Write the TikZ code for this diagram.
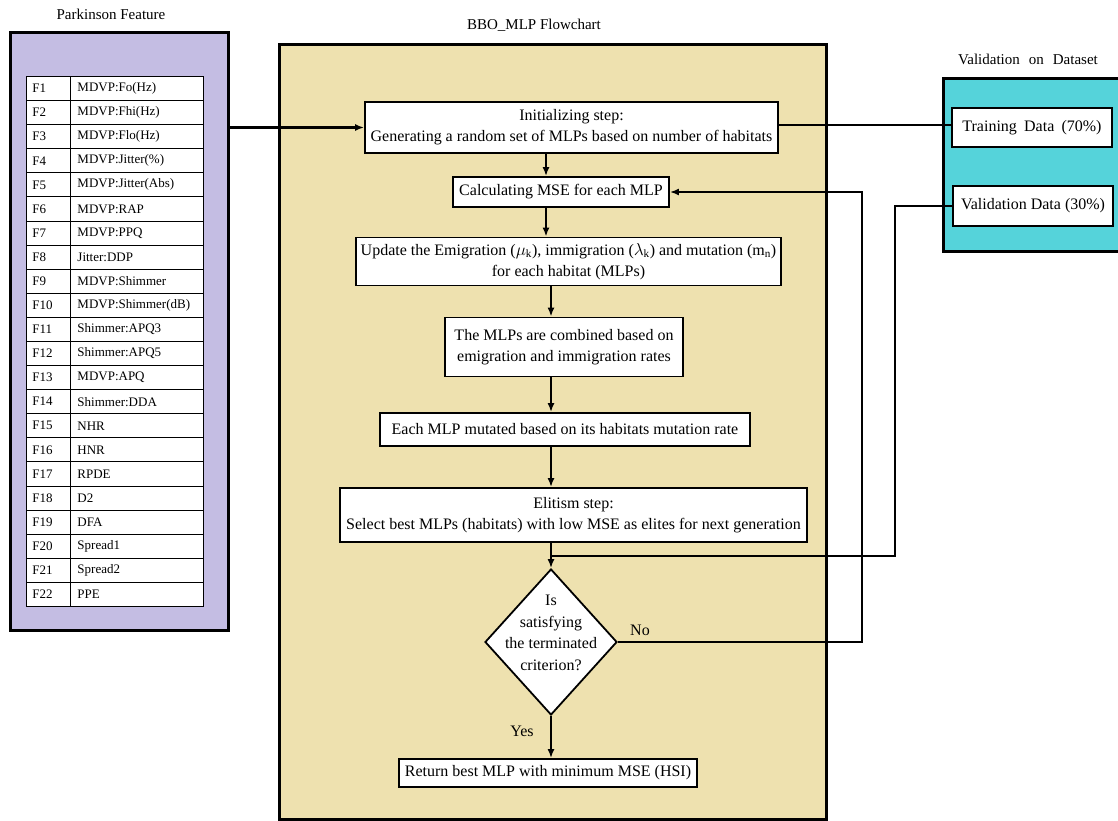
\documentclass[tikz,border=0pt]{standalone}
\usepackage{fontspec}
\setmainfont{Liberation Serif}
\usetikzlibrary{shapes.geometric,arrows.meta}
\definecolor{featfill}{HTML}{C4BDE3}
\definecolor{flowfill}{HTML}{EEE1AF}
\definecolor{valfill}{HTML}{55D3DA}
\begin{document}
\begin{tikzpicture}[x=1pt,y=-1pt,
  container/.style={draw, line width=3pt, inner sep=0pt},
  procbox/.style={draw, fill=white, line width=1.8pt, inner sep=0pt, align=center,
    font=\fontsize{16}{21}\selectfont},
  conn/.style={line width=1.8pt},
  arr/.style={conn, -{Latex[length=9pt,width=7pt]}},
  fcell/.style={draw, line width=0.9pt, fill=white, minimum height=24.09pt, inner ysep=0pt,
    inner xsep=6pt, text width=32pt, anchor=north west, font=\fontsize{13}{15}\selectfont},
  ncell/.style={draw, line width=0.9pt, fill=white, minimum height=24.09pt, inner ysep=0pt,
    inner xsep=7pt, text width=119pt, anchor=north west, font=\fontsize{13}{15}\selectfont},
  titletext/.style={font=\fontsize{15}{18}\selectfont, inner sep=0pt},
  lbl/.style={font=\fontsize{16}{18}\selectfont, inner sep=0pt}]

\useasboundingbox (0,0) rectangle (1118,821);
\fill[white] (0,0) rectangle (1118,821);

% containers
\node[container, fill=featfill, minimum width=218pt, minimum height=597pt] (feat) at (119,331.5) {};
\node[container, fill=flowfill, minimum width=547pt, minimum height=774pt] (flow) at (552.5,432) {};
\node[container, fill=valfill, minimum width=182pt, minimum height=172pt] (valset) at (1034,165) {};

% titles
\node[titletext] (tfeat) at (111,14) {Parkinson Feature};
\node[titletext] (tflow) at (534,25) {BBO\_MLP Flowchart};
\node[titletext] (tval) at (1028,59) {Validation\hspace{0.6em}on\hspace{0.6em}Dataset};

% feature table
\foreach \n [count=\i] in {MDVP:Fo(Hz),MDVP:Fhi(Hz),MDVP:Flo(Hz),{MDVP:Jitter(\%)},MDVP:Jitter(Abs),
  MDVP:RAP,MDVP:PPQ,Jitter:DDP,MDVP:Shimmer,MDVP:Shimmer(dB),Shimmer:APQ3,Shimmer:APQ5,
  MDVP:APQ,Shimmer:DDA,NHR,HNR,RPDE,D2,DFA,Spread1,Spread2,PPE}{
  \node[fcell] (fl\i) at (26,{76+(\i-1)*24.09}) {F\i};
  \node[ncell] (fn\i) at (70,{76+(\i-1)*24.09}) {\n};
}

% flowchart boxes
\node[procbox, minimum width=413pt, minimum height=51pt] (init) at (571.5,127.5)
  {Initializing step:\\Generating a random set of MLPs based on number of habitats};
\node[procbox, minimum width=216pt, minimum height=30pt] (calc) at (561,192)
  {Calculating MSE for each MLP};
\node[procbox, minimum width=425pt, minimum height=48pt] (upd) at (568.5,261.5)
  {Update the Emigration ($\mu_{\mathrm{k}}$), immigration ($\lambda_{\mathrm{k}}$) and mutation (m$_{\mathrm{n}}$)\\for each habitat (MLPs)};
\node[procbox, minimum width=238pt, minimum height=59pt] (comb) at (564,347)
  {The MLPs are combined based on\\emigration and immigration rates};
\node[procbox, minimum width=370pt, minimum height=33pt] (mut) at (565,429.5)
  {Each MLP mutated based on its habitats mutation rate};
\node[procbox, minimum width=467pt, minimum height=54pt] (elit) at (573.5,515)
  {Elitism step:\\Select best MLPs (habitats) with low MSE as elites for next generation};
\node[diamond, draw, fill=white, line width=1.8pt, inner sep=0pt,
  minimum width=132pt, minimum height=146pt] (dia) at (551,642) {};
\node[align=center, inner sep=0pt, font=\fontsize{16}{21.5}\selectfont] (diatext) at (551,633)
  {Is\\satisfying\\the terminated\\criterion?};
\node[procbox, minimum width=298pt, minimum height=28pt] (ret) at (548,773)
  {Return best MLP with minimum MSE (HSI)};

\node[procbox, minimum width=160pt, minimum height=39pt] (train) at (1032,127.5)
  {Training\hspace{0.45em}Data\hspace{0.45em}(70\%)};
\node[procbox, minimum width=160pt, minimum height=40pt] (val) at (1033,206)
  {Validation Data (30\%)};

% helper coordinates
\coordinate (a1) at (546,0);
\coordinate (tl) at (0,125);
\coordinate (vc) at (895,556);
\coordinate (jn) at (551,556);
\coordinate (nc) at (862,642);

% connectors
\draw[arr, line width=2.2pt] (feat.east |- init.west) -- (init.west);
\draw[conn] (init.east |- tl) -- (train.west |- tl);
\draw[arr] (init.south -| a1) -- (calc.north -| a1);
\draw[arr] (calc.south -| a1) -- (upd.north -| a1);
\draw[arr] (upd.south -| dia.north) -- (comb.north -| dia.north);
\draw[arr] (comb.south -| dia.north) -- (mut.north -| dia.north);
\draw[arr] (mut.south -| dia.north) -- (elit.north -| dia.north);
\draw[arr] (elit.south -| dia.north) -- (dia.north);
\draw[arr] (dia.south) -- (dia.south |- ret.north);
\draw[conn] (val.west) -| (vc) -- (jn);
\draw[arr] (dia.east) -- (nc) |- (calc.east);

\node[lbl] (no) at (640,630) {No};
\node[lbl] (yes) at (522,731) {Yes};
\end{tikzpicture}
\end{document}
